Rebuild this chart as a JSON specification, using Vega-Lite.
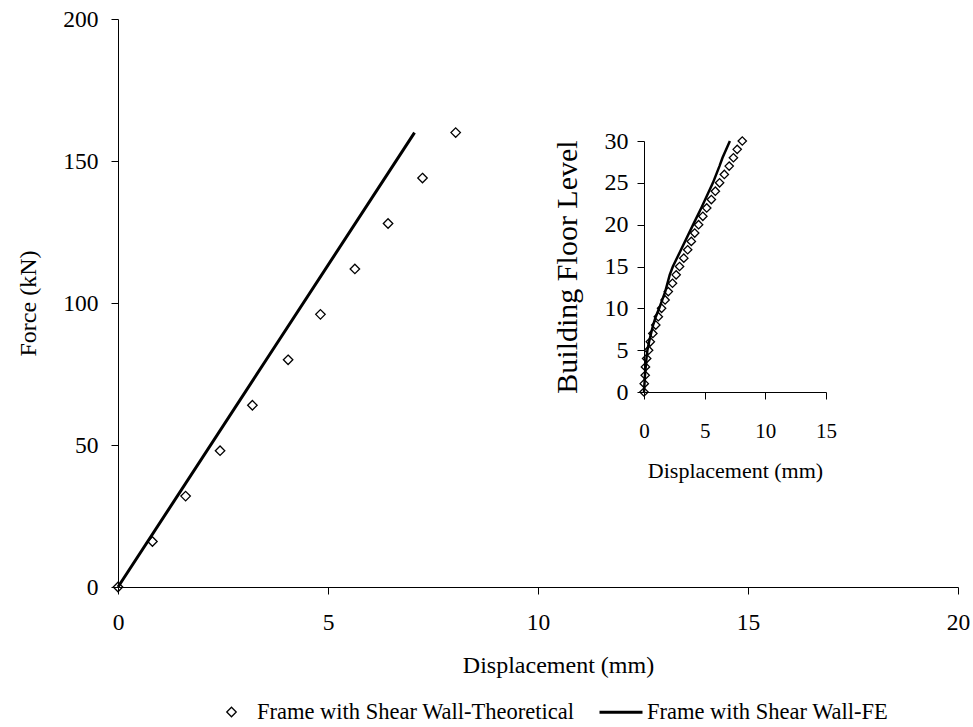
{
  "$schema": "https://vega.github.io/schema/vega-lite/v6.json",
  "autosize": {"type": "none"},
  "padding": {"left": 118, "top": 19, "right": 15, "bottom": 140},
  "width": 840,
  "height": 568,
  "background": "white",
  "config": {
    "view": {"stroke": null},
    "font": "Liberation Serif",
    "axis": {
      "grid": false,
      "domainColor": "#000",
      "tickColor": "#000",
      "labelColor": "#000",
      "titleColor": "#000",
      "labelFont": "Liberation Serif",
      "titleFont": "Liberation Serif",
      "titleFontWeight": "normal",
      "labelFontSize": 23.5,
      "titleFontSize": 24,
      "domainWidth": 1,
      "tickWidth": 1,
      "tickSize": 7,
      "labelFlush": false,
      "labelOverlap": false
    },
    "legend": {
      "labelFont": "Liberation Serif",
      "labelFontSize": 22.5,
      "labelColor": "#000",
      "labelLimit": 600
    }
  },
  "datasets": {
    "main_theo": [
      {"disp": 0, "force": 0, "series": "Frame with Shear Wall-Theoretical"},
      {"disp": 0.82, "force": 16, "series": "Frame with Shear Wall-Theoretical"},
      {"disp": 1.61, "force": 32, "series": "Frame with Shear Wall-Theoretical"},
      {"disp": 2.43, "force": 48, "series": "Frame with Shear Wall-Theoretical"},
      {"disp": 3.2, "force": 64, "series": "Frame with Shear Wall-Theoretical"},
      {"disp": 4.05, "force": 80, "series": "Frame with Shear Wall-Theoretical"},
      {"disp": 4.82, "force": 96, "series": "Frame with Shear Wall-Theoretical"},
      {"disp": 5.64, "force": 112, "series": "Frame with Shear Wall-Theoretical"},
      {"disp": 6.43, "force": 128, "series": "Frame with Shear Wall-Theoretical"},
      {"disp": 7.25, "force": 144, "series": "Frame with Shear Wall-Theoretical"},
      {"disp": 8.04, "force": 160, "series": "Frame with Shear Wall-Theoretical"}
    ],
    "main_fe": [
      {"disp": 0, "force": 0},
      {"disp": 3.53, "force": 80},
      {"disp": 7.06, "force": 160}
    ],
    "inset_theo": [
      {"disp": 0, "floor": 0}, {"disp": 0.02, "floor": 1}, {"disp": 0.1, "floor": 2},
      {"disp": 0.12, "floor": 3}, {"disp": 0.22, "floor": 4}, {"disp": 0.38, "floor": 5},
      {"disp": 0.52, "floor": 6}, {"disp": 0.73, "floor": 7}, {"disp": 0.97, "floor": 8},
      {"disp": 1.18, "floor": 9}, {"disp": 1.45, "floor": 10}, {"disp": 1.74, "floor": 11},
      {"disp": 2.0, "floor": 12}, {"disp": 2.35, "floor": 13}, {"disp": 2.65, "floor": 14},
      {"disp": 2.93, "floor": 15}, {"disp": 3.28, "floor": 16}, {"disp": 3.6, "floor": 17},
      {"disp": 3.9, "floor": 18}, {"disp": 4.18, "floor": 19}, {"disp": 4.5, "floor": 20},
      {"disp": 4.85, "floor": 21}, {"disp": 5.17, "floor": 22}, {"disp": 5.55, "floor": 23},
      {"disp": 5.88, "floor": 24}, {"disp": 6.23, "floor": 25}, {"disp": 6.62, "floor": 26},
      {"disp": 7.02, "floor": 27}, {"disp": 7.37, "floor": 28}, {"disp": 7.68, "floor": 29},
      {"disp": 8.1, "floor": 30}
    ],
    "inset_fe": [
      {"disp": 0, "floor": 0}, {"disp": 0.08, "floor": 2}, {"disp": 0.2, "floor": 4},
      {"disp": 0.28, "floor": 5}, {"disp": 0.42, "floor": 6}, {"disp": 0.75, "floor": 8},
      {"disp": 0.97, "floor": 9}, {"disp": 1.25, "floor": 10}, {"disp": 1.75, "floor": 12},
      {"disp": 2.12, "floor": 14}, {"disp": 2.38, "floor": 15}, {"disp": 3.05, "floor": 17},
      {"disp": 4.05, "floor": 20}, {"disp": 4.72, "floor": 22}, {"disp": 5.68, "floor": 25},
      {"disp": 6.22, "floor": 27}, {"disp": 6.47, "floor": 28}, {"disp": 7.08, "floor": 30}
    ]
  },
  "layer": [
    {
      "layer": [
        {
          "data": {"name": "main_fe"},
          "mark": {"type": "line", "color": "#000", "strokeWidth": 3},
          "encoding": {
            "x": {"field": "disp", "type": "quantitative", "title": "Displacement (mm)",
                  "scale": {"domain": [0, 20], "nice": false}},
            "y": {"field": "force", "type": "quantitative", "title": "Force (kN)",
                  "scale": {"domain": [0, 200], "nice": false}}
          }
        },
        {
          "data": {"name": "main_theo"},
          "mark": {"type": "point", "filled": false, "color": "#000", "opacity": 1, "size": 1849},
          "encoding": {
            "x": {"field": "disp", "type": "quantitative", "title": "Displacement (mm)",
                  "scale": {"domain": [0, 20], "nice": false},
                  "axis": {"values": [0, 5, 10, 15, 20], "labelPadding": 16, "titlePadding": 20, "titleX": 440}},
            "y": {"field": "force", "type": "quantitative", "title": "Force (kN)",
                  "scale": {"domain": [0, 200], "nice": false},
                  "axis": {"values": [0, 50, 100, 150, 200], "labelPadding": 13, "titlePadding": 22}},
            "shape": {"field": "series", "type": "nominal",
                      "scale": {"domain": ["Frame with Shear Wall-Theoretical", "Frame with Shear Wall-FE"], "range": ["M0,-0.22L0.22,0L0,0.22L-0.22,0Z", "M-1,0L1,0"]},
                      "legend": {"title": null, "orient": "none", "direction": "horizontal", "legendX": 91, "legendY": 670, "columnPadding": 18, "labelOffset": 3, "symbolSize": 1849}},
            "strokeWidth": {"field": "series", "type": "nominal",
                     "scale": {"domain": ["Frame with Shear Wall-Theoretical", "Frame with Shear Wall-FE"], "range": [1.3, 3]},
                     "legend": {"title": null, "orient": "none", "direction": "horizontal", "legendX": 91, "legendY": 670, "columnPadding": 18, "labelOffset": 3, "symbolSize": 1849}}
          }
        }
      ]
    },
    {
      "layer": [
        {
          "data": {"name": "inset_fe"},
          "mark": {"type": "line", "color": "#000", "strokeWidth": 2.5},
          "encoding": {
            "x": {"field": "disp", "type": "quantitative", "title": "Displacement (mm)",
                  "scale": {"domain": [0, 15], "range": [526, 708], "nice": false}},
            "y": {"field": "floor", "type": "quantitative", "title": "Building Floor Level",
                  "scale": {"domain": [0, 30], "range": [373, 122], "nice": false}}
          }
        },
        {
          "data": {"name": "inset_theo"},
          "mark": {"type": "point", "shape": "diamond", "filled": false, "color": "#000", "opacity": 1, "size": 70, "strokeWidth": 1.3},
          "encoding": {
            "x": {"field": "disp", "type": "quantitative", "title": "Displacement (mm)",
                  "scale": {"domain": [0, 15], "range": [526, 708], "nice": false},
                  "axis": {"orient": "bottom", "offset": -195, "values": [0, 5, 10, 15], "labelFontSize": 21, "labelPadding": 21, "titlePadding": 19, "titleFontSize": 22}},
            "y": {"field": "floor", "type": "quantitative", "title": "Building Floor Level",
                  "scale": {"domain": [0, 30], "range": [373, 122], "nice": false},
                  "axis": {"orient": "left", "offset": -526, "values": [0, 5, 10, 15, 20, 25, 30], "labelFontSize": 24, "labelPadding": 9, "titlePadding": 22, "titleFontSize": 30}}
          }
        }
      ]
    }
  ],
  "resolve": {"scale": {"x": "independent", "y": "independent"}}
}
